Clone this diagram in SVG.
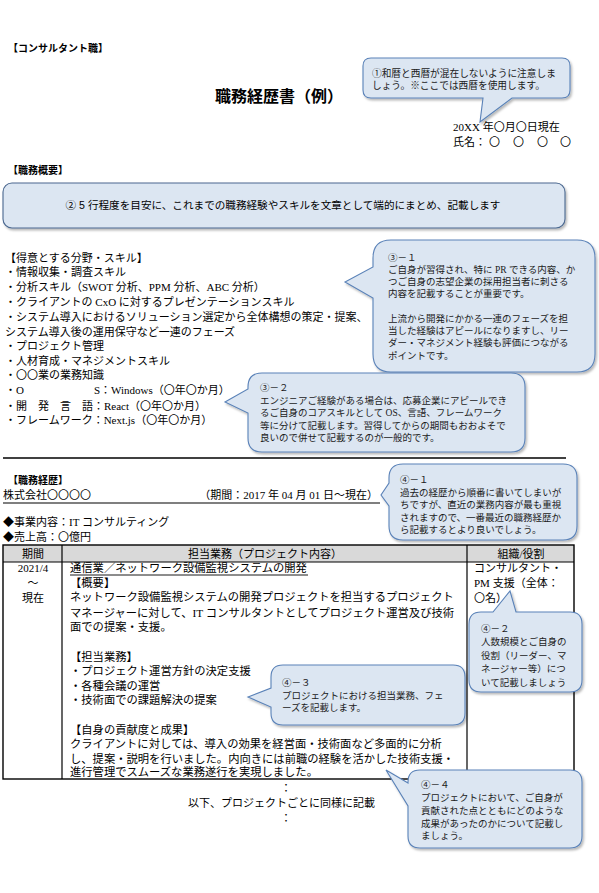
<svg xmlns="http://www.w3.org/2000/svg" width="599" height="893" viewBox="0 0 599 893">
<defs>
<filter id="sh" x="-10%" y="-10%" width="125%" height="135%"><feDropShadow dx="1.5" dy="2" stdDeviation="1.2" flood-color="#000" flood-opacity="0.28"/></filter>
<style>
.b{font-family:"Liberation Serif","Noto Sans CJK JP",serif;font-size:11px;fill:#000}
.g{font-family:"Liberation Sans","Noto Sans CJK JP",sans-serif;fill:#000}
.h{font-family:"Liberation Sans","Noto Sans CJK JP",sans-serif;font-size:10px;font-weight:bold;fill:#000}
.c{font-family:"Liberation Serif","Noto Sans CJK JP",serif;font-size:9.5px;fill:#1a1a1a}
.co{fill:#dce6f2;stroke:#5a82b8;stroke-width:1.1;filter:url(#sh)}
.ln{stroke:#000;stroke-width:1.2;fill:none}
.m{text-anchor:middle}
</style>
</defs>
<rect width="599" height="893" fill="#fff"/>

<g id="header">
<text class="h" x="8" y="52">【コンサルタント職】</text>
<text class="g m" x="279" y="102" style="font-size:16px;font-weight:bold">職務経歴書（例）</text>
<text class="b" x="453" y="131">20XX 年〇月〇日現在</text>
<text class="b" x="453" y="146">氏名：<tspan x="489">〇</tspan><tspan x="513">〇</tspan><tspan x="537">〇</tspan><tspan x="560">〇</tspan></text>
</g>

<g id="summary">
<text class="h" x="8" y="174">【職務概要】</text>
</g>

<g id="skills">
<text class="b" x="5" y="262">【得意とする分野・スキル】</text>
<text class="b" x="5" y="276">・情報収集・調査スキル</text>
<text class="b" x="5" y="291">・分析スキル（SWOT 分析、PPM 分析、ABC 分析）</text>
<text class="b" x="5" y="306">・クライアントの CxO に対するプレゼンテーションスキル</text>
<text class="b" x="5" y="321">・システム導入におけるソリューション選定から全体構想の策定・提案、</text>
<text class="b" x="5" y="336">システム導入後の運用保守など一連のフェーズ</text>
<text class="b" x="5" y="350">・プロジェクト管理</text>
<text class="b" x="5" y="365">・人材育成・マネジメントスキル</text>
<text class="b" x="5" y="379">・〇〇業の業務知識</text>
<text class="b" x="5" y="394">・O<tspan x="94">S：Windows（〇年〇か月）</tspan></text>
<text class="b" x="5" y="410">・開　発　言　語：React（〇年〇か月）</text>
<text class="b" x="5" y="424">・フレームワーク：Next.js（〇年〇か月）</text>
</g>

<g id="separator">
<line class="ln" x1="3" y1="458" x2="566" y2="458" style="stroke-width:1.4"/>
</g>

<g id="career">
<text class="h" x="8" y="484">【職務経歴】</text>
<text class="g" x="3" y="499" style="font-size:11px">株式会社〇〇〇〇</text>
<text class="b" x="378" y="499" text-anchor="end">（期間：2017 年 04 月 01 日～現在）</text>
<line class="ln" x1="3" y1="503" x2="380" y2="503"/>
<text class="b" x="3" y="526">◆事業内容：IT コンサルティング</text>
<text class="b" x="3" y="541">◆売上高：〇億円</text>
</g>

<g id="table">
<rect x="3" y="545" width="571" height="17" fill="#d9d9d9"/>
<rect class="ln" x="3" y="545" width="571" height="234" style="stroke-width:1.4"/>
<line class="ln" x1="3" y1="562" x2="574" y2="562"/>
<line class="ln" x1="62" y1="545" x2="62" y2="779"/>
<line class="ln" x1="467" y1="545" x2="467" y2="779"/>
<text class="b m" x="33" y="558">期間</text>
<text class="b m" x="265" y="558">担当業務（プロジェクト内容）</text>
<text class="b m" x="521" y="558">組織/役割</text>
<text class="b m" x="33" y="572">2021/4</text>
<text class="b m" x="33" y="587">～</text>
<text class="b m" x="33" y="602">現在</text>
<text class="b" x="70" y="572" style="font-size:11.3px">通信業／ネットワーク設備監視システムの開発</text>
<text class="b" x="70" y="586.6" style="font-size:11.3px">【概要】</text>
<text class="b" x="70" y="601.2" style="font-size:11.3px">ネットワーク設備監視システムの開発プロジェクトを担当するプロジェクト</text>
<text class="b" x="70" y="616.8" style="font-size:11.3px">マネージャーに対して、IT コンサルタントとしてプロジェクト運営及び技術</text>
<text class="b" x="70" y="631.4" style="font-size:11.3px">面での提案・支援。</text>
<text class="b" x="70" y="660.6" style="font-size:11.3px">【担当業務】</text>
<text class="b" x="70" y="675.2" style="font-size:11.3px">・プロジェクト運営方針の決定支援</text>
<text class="b" x="70" y="689.8" style="font-size:11.3px">・各種会議の運営</text>
<text class="b" x="70" y="704.4" style="font-size:11.3px">・技術面での課題解決の提案</text>
<text class="b" x="70" y="733.6" style="font-size:11.3px">【自身の貢献度と成果】</text>
<text class="b" x="70" y="748.2" style="font-size:11.3px">クライアントに対しては、導入の効果を経営面・技術面など多面的に分析</text>
<text class="b" x="70" y="762.8" style="font-size:11.3px">し、提案・説明を行いました。内向きには前職の経験を活かした技術支援・</text>
<text class="b" x="70" y="776.4" style="font-size:11.3px">進行管理でスムーズな業務遂行を実現しました。</text>
<line class="ln" x1="70" y1="575" x2="308" y2="575" style="stroke-width:0.9"/>
<text class="b" x="474" y="572">コンサルタント・</text>
<text class="b" x="474" y="587">PM 支援（全体：</text>
<text class="b" x="474" y="602">〇名）</text>
</g>

<g id="footer">
<text class="b m" x="286" y="792">：</text>
<text class="b" x="188" y="807">以下、プロジェクトごとに同様に記載</text>
<text class="b m" x="286" y="822">：</text>
</g>

<g id="callout1">
<path class="co" d="M371,58 H562 Q570,58 570,66 V90 Q570,98 562,98 H512 L480,122 L483,98 H371 Q363,98 363,90 V66 Q363,58 371,58 Z"/>
<text class="c" x="372" y="76.5" style="font-size:9.7px">①和暦と西暦が混在しないように注意しま</text>
<text class="c" x="372" y="89" style="font-size:9.7px">しょう。※ここでは西暦を使用します。</text>
</g>

<g id="callout2">
<rect class="co" x="3" y="183" width="562" height="45" rx="9" style="stroke:#4a678f"/>
<text class="g m" x="283" y="209" style="font-size:10.6px">② 5 行程度を目安に、これまでの職務経験やスキルを文章として端的にまとめ、記載します</text>
</g>

<g id="callout3-1">
<path class="co" d="M391,240 H577 Q595,240 595,258 V354 Q595,372 577,372 H391 Q373,372 373,354 V298 L345,282 L373,267 V258 Q373,240 391,240 Z"/>
<text class="c" x="388" y="260.5">③－１</text>
<text class="c" x="388" y="272.8">ご自身が習得され、特に PR できる内容、か</text>
<text class="c" x="388" y="285">つご自身の志望企業の採用担当者に刺さる</text>
<text class="c" x="388" y="297.3">内容を記載することが重要です。</text>
<text class="c" x="388" y="321.8">上流から開発にかかる一連のフェーズを担</text>
<text class="c" x="388" y="334">当した経験はアピールになりますし、リー</text>
<text class="c" x="388" y="346.3">ダー・マネジメント経験も評価につながる</text>
<text class="c" x="388" y="358.5">ポイントです。</text>
</g>

<g id="callout3-2">
<path class="co" d="M262,373 H511 Q525,373 525,387 V438 Q525,452 511,452 H262 Q248,452 248,438 V413 L225,402 L248,389 V387 Q248,373 262,373 Z"/>
<text class="c" x="260" y="390.5">③－２</text>
<text class="c" x="260" y="403.5">エンジニアご経験がある場合は、応募企業にアピールでき</text>
<text class="c" x="260" y="416">るご自身のコアスキルとして OS、言語、フレームワーク</text>
<text class="c" x="260" y="428.5">等に分けて記載します。習得してからの期間もおおよそで</text>
<text class="c" x="260" y="441">良いので併せて記載するのが一般的です。</text>
</g>

<g id="callout4-1">
<path class="co" d="M403,464 H563 Q577,464 577,478 V526 Q577,540 563,540 H403 Q389,540 389,526 V506 L381,495 L389,483 V478 Q389,464 403,464 Z"/>
<text class="c" x="400" y="483">④－１</text>
<text class="c" x="400" y="495.5">過去の経歴から順番に書いてしまいが</text>
<text class="c" x="400" y="508">ちですが、直近の業務内容が最も重視</text>
<text class="c" x="400" y="520.5">されますので、一番最近の職務経歴か</text>
<text class="c" x="400" y="533">ら記載するとより良いでしょう。</text>
</g>

<g id="callout4-2">
<path class="co" d="M481,612 H493 L510,591 L516,612 H570 Q582,612 582,624 V680 Q582,692 570,692 H481 Q469,692 469,680 V624 Q469,612 481,612 Z"/>
<text class="c" x="481" y="631.5">④－２</text>
<text class="c" x="481" y="645">人数規模とご自身の</text>
<text class="c" x="481" y="658.5">役割（リーダー、マ</text>
<text class="c" x="481" y="672">ネージャー等）につ</text>
<text class="c" x="481" y="685.5">いて記載しましょう</text>
</g>

<g id="callout4-3">
<path class="co" d="M283,665 H453 Q465,665 465,677 V713 Q465,725 453,725 H283 Q271,725 271,713 V707 L248,697 L271,688 V677 Q271,665 283,665 Z"/>
<text class="c" x="282" y="685.5">④－３</text>
<text class="c" x="282" y="698.5">プロジェクトにおける担当業務、フェ</text>
<text class="c" x="282" y="711">ーズを記載します。</text>
</g>

<g id="callout4-4">
<path class="co" d="M420,770 H570 Q582,770 582,782 V836 Q582,848 570,848 H420 Q408,848 408,836 V806 L386,770 L408,783 V782 Q408,770 420,770 Z"/>
<text class="c" x="421" y="787.5">④－４</text>
<text class="c" x="421" y="800.5">プロジェクトにおいて、ご自身が</text>
<text class="c" x="421" y="813.5">貢献された点とともにどのような</text>
<text class="c" x="421" y="826.5">成果があったのかについて記載し</text>
<text class="c" x="421" y="839">ましょう。</text>
</g>
</svg>
